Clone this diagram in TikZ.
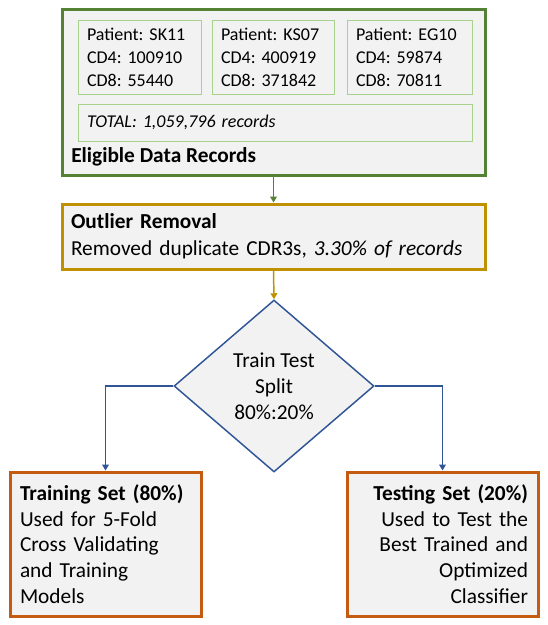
\documentclass[tikz,border=0pt]{standalone}
\usepackage{fontspec}
\setmainfont{Carlito}
\usetikzlibrary{shapes.geometric,arrows.meta}
\definecolor{recgreen}{HTML}{548235}
\definecolor{litegreen}{HTML}{A9D18E}
\definecolor{outgold}{HTML}{BF9000}
\definecolor{splitblue}{HTML}{2F5597}
\definecolor{setorange}{HTML}{C55A11}
\definecolor{boxfill}{HTML}{F2F2F2}
\frenchspacing
\tikzset{
  panel/.style={draw=recgreen, fill=boxfill, line width=2.25pt, minimum width=317.25pt, minimum height=124.5pt},
  patientbox/.style={draw=litegreen, fill=boxfill, line width=0.75pt, minimum height=55.5pt, inner xsep=6.75pt,
    align=left, text width=78pt, font=\fontsize{13.5}{17.25}\selectfont},
  outlierbox/.style={draw=outgold, fill=boxfill, line width=2.25pt, minimum height=48.75pt, inner xsep=6.75pt,
    align=left, text width=303.75pt, font=\fontsize{16}{20}\selectfont},
  splitnode/.style={diamond, draw=splitblue, fill=boxfill, line width=1.1pt, minimum width=150pt, minimum height=129pt,
    inner sep=0pt, align=center, font=\fontsize{16}{19.5}\selectfont},
  setbox/.style={draw=setorange, fill=boxfill, line width=2.25pt, minimum height=108pt, inner xsep=7.5pt,
    text width=128.25pt, font=\fontsize{16}{19.3}\selectfont},
  link/.style={line width=1.1pt, -{Triangle[width=5pt,length=4.5pt]}}
}
\begin{document}
\begin{tikzpicture}[x=0.75pt,y=-0.75pt]
  \useasboundingbox (0,0) rectangle (548,625);
  \node[panel] (records) at (273.5,92) {};
  \node[patientbox, text width=78.75pt] (sk) at (139.5,57) {Patient: SK11\\CD4: 100910\\CD8: 55440};
  \node[patientbox, text width=78pt] (ks) at (273,57) {Patient: KS07\\CD4: 400919\\CD8: 371842};
  \node[patientbox, text width=80.25pt] (eg) at (409.5,57) {Patient: EG10\\CD4: 59874\\CD8: 70811};
  \node[patientbox, minimum height=27.75pt, text width=282pt] (total) at (275,122.5) {\textit{TOTAL: 1,059,796 records}};
  \node[anchor=west, inner sep=0pt, font=\fontsize{16}{20}\selectfont\bfseries] (eligible) at (71,157) {Eligible Data Records};
  \node[outlierbox] (outlier) at (273.5,236.5) {\textbf{Outlier Removal}\\Removed duplicate CDR3s, \textit{3.30\% of records}};
  \node[splitnode] (split) at (274,386) {Train Test\\Split\\80\%:20\%};
  \node[setbox, align=left] (train) at (105.5,544) {\textbf{Training Set (80\%)}\\Used for 5-Fold\\Cross Validating\\and Training\\Models};
  \node[setbox, align=right] (test) at (442.5,544) {\textbf{Testing Set (20\%)}\\Used to Test the\\Best Trained and\\Optimized\\Classifier};
  \draw[link, recgreen] (records.south) -- (outlier.north);
  \draw[link, outgold] (outlier.south) -- (split.north);
  \draw[link, splitblue] (split.west) -| (train.north);
  \draw[link, splitblue] (split.east) -| (test.north);
\end{tikzpicture}
\end{document}
